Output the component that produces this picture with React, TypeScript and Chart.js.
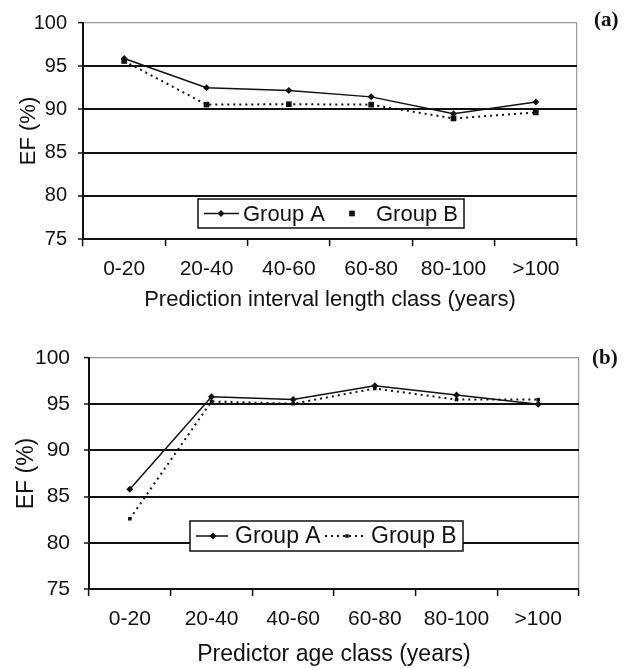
import React, { useEffect, useRef } from "react";
import { Chart, registerables } from "chart.js";

Chart.register(...registerables);

// ---------- data ----------
const categories = ["0-20", "20-40", "40-60", "60-80", "80-100", ">100"];
const seriesLabels = ["Group A", "Group B"];
const yMin = 75;
const yMax = 100;
const yStep = 5;

const topGroupA = [95.9, 92.5, 92.2, 91.45, 89.5, 90.85];
const topGroupB = [95.6, 90.55, 90.6, 90.55, 88.95, 89.65];

const bottomGroupA = [85.8, 95.8, 95.5, 97.0, 96.0, 95.0];
const bottomGroupB = [82.6, 95.3, 95.05, 96.7, 95.5, 95.5];

const yTitle = "EF (%)";
const topXTitle = "Prediction interval length class (years)";
const bottomXTitle = "Predictor age class (years)";
const panelLabels = ["(a)", "(b)"];

// ---------- helpers ----------
const INK = "#111111";
const FRAME = "#9a9a9a";
const SANS = "'Liberation Sans', Arial, sans-serif";

function drawMarker(ctx: CanvasRenderingContext2D, style: string, x: number, y: number, r: number) {
  ctx.save();
  ctx.fillStyle = INK;
  ctx.beginPath();
  if (style === "rectRot") {
    ctx.moveTo(x, y - r);
    ctx.lineTo(x + r, y);
    ctx.lineTo(x, y + r);
    ctx.lineTo(x - r, y);
    ctx.closePath();
  } else {
    const s = r * Math.SQRT1_2;
    ctx.rect(x - s, y - s, 2 * s, 2 * s);
  }
  ctx.fill();
  ctx.restore();
}

type LegendItemPos = { lineFrom?: number; lineTo?: number; marker: number; text: number };
type LegendCfg = { box: [number, number, number, number]; items: LegendItemPos[]; font: string };

function makeBoxedLegend(cfg: LegendCfg) {
  return {
    id: "boxedLegend",
    afterDraw(chart: any) {
      const ctx: CanvasRenderingContext2D = chart.ctx;
      const [x, y, w, h] = cfg.box;
      ctx.save();
      ctx.fillStyle = "#ffffff";
      ctx.fillRect(x, y, w, h);
      ctx.lineWidth = 1.5;
      ctx.strokeStyle = INK;
      ctx.strokeRect(x, y, w, h);
      const cy = y + h / 2;
      chart.data.datasets.forEach((ds: any, i: number) => {
        const it = cfg.items[i];
        if (!it) return;
        if (it.lineFrom !== undefined && it.lineTo !== undefined) {
          ctx.beginPath();
          ctx.strokeStyle = INK;
          ctx.setLineDash(ds.borderDash || []);
          ctx.lineWidth = ds.borderWidth;
          ctx.moveTo(it.lineFrom, cy);
          ctx.lineTo(it.lineTo, cy);
          ctx.stroke();
          ctx.setLineDash([]);
        }
        drawMarker(ctx, ds.pointStyle, it.marker, cy, ds.pointRadius);
        ctx.fillStyle = INK;
        ctx.font = cfg.font;
        ctx.textBaseline = "middle";
        ctx.textAlign = "left";
        ctx.fillText(ds.label, it.text, cy + 1);
      });
      ctx.restore();
    },
  };
}

type PanelProps = {
  width: number;
  height: number;
  top: number;
  a: number[];
  b: number[];
  xTitle: string;
  padding: { top: number; right: number; left: number; bottom: number };
  yWidth: number;
  xHeight: number;
  yTickFont: number;
  yTickPad: number;
  yTitleFont: number;
  yTitlePad: number;
  xTickFont: number;
  xTickPad: number;
  xTitleFont: number;
  xTitlePad: number;
  legend: LegendCfg;
  bRadius: number;
};

function Panel(p: PanelProps) {
  const ref = useRef<HTMLCanvasElement | null>(null);
  useEffect(() => {
    if (!ref.current) return;
    const chart = new Chart(ref.current, {
      type: "line",
      data: {
        labels: categories,
        datasets: [
          {
            label: seriesLabels[0],
            data: p.a,
            borderColor: INK,
            backgroundColor: INK,
            borderWidth: 1.5,
            pointStyle: "rectRot",
            pointRadius: 3.5,
            pointBorderWidth: 0,
            tension: 0,
          },
          {
            label: seriesLabels[1],
            data: p.b,
            borderColor: INK,
            backgroundColor: INK,
            borderWidth: 2,
            borderDash: [2, 4],
            pointStyle: "rect",
            pointRadius: p.bRadius,
            pointBorderWidth: 0,
            tension: 0,
          },
        ] as any,
      },
      options: {
        animation: false,
        responsive: false,
        devicePixelRatio: 1,
        layout: { padding: p.padding },
        plugins: {
          legend: { display: false },
          tooltip: { enabled: false },
        },
        scales: {
          x: {
            type: "category",
            offset: true,
            afterFit: (s: any) => {
              s.height = p.xHeight;
            },
            border: { display: true, color: INK, width: 2 },
            grid: {
              offset: true,
              drawOnChartArea: true,
              color: (c: any) => (c.index === undefined || c.index >= categories.length ? FRAME : "rgba(0,0,0,0)"),
              lineWidth: 1.2,
              tickColor: INK,
              tickWidth: 1.5,
              tickLength: 7,
            },
            ticks: {
              color: INK,
              padding: p.xTickPad,
              maxRotation: 0,
              autoSkip: false,
              font: { family: SANS, size: p.xTickFont },
            },
            title: {
              display: true,
              text: p.xTitle,
              color: INK,
              padding: { top: 0, bottom: p.xTitlePad },
              font: { family: SANS, size: p.xTitleFont },
            },
          },
          y: {
            min: yMin,
            max: yMax,
            afterFit: (s: any) => {
              s.width = p.yWidth;
            },
            border: { display: true, color: INK, width: 2 },
            grid: {
              color: (c: any) => (c.tick && c.tick.value === yMax ? FRAME : INK),
              lineWidth: (c: any) => (c.tick && c.tick.value === yMax ? 1.2 : 2),
              tickColor: INK,
              tickWidth: 1.5,
              tickLength: 5,
            },
            ticks: {
              stepSize: yStep,
              color: INK,
              padding: p.yTickPad,
              font: { family: SANS, size: p.yTickFont },
            },
            title: {
              display: true,
              text: yTitle,
              color: INK,
              padding: { top: p.yTitlePad, bottom: 0 },
              font: { family: SANS, size: p.yTitleFont },
            },
          },
        },
      } as any,
      plugins: [makeBoxedLegend(p.legend)],
    });
    return () => chart.destroy();
  }, []);
  return (
    <canvas
      ref={ref}
      width={p.width}
      height={p.height}
      style={{ position: "absolute", left: 0, top: p.top, width: p.width, height: p.height, display: "block" }}
    />
  );
}

export default function App() {
  const labelStyle: React.CSSProperties = {
    position: "absolute",
    fontFamily: "'Liberation Serif', 'Times New Roman', serif",
    fontWeight: "bold",
    fontSize: 21,
    lineHeight: 1,
    color: INK,
  };
  return (
    <div style={{ position: "absolute", left: 0, top: 0, width: 631, height: 668, background: "#fff", overflow: "hidden" }}>
      <Panel
        width={631}
        height={320}
        top={0}
        a={topGroupA}
        b={topGroupB}
        xTitle={topXTitle}
        padding={{ top: 17, right: 54, left: 0, bottom: 0 }}
        yWidth={83}
        xHeight={81}
        yTickFont={20}
        yTickPad={11}
        yTitleFont={22}
        yTitlePad={16}
        xTickFont={21}
        xTickPad={11}
        xTitleFont={22}
        xTitlePad={7}
        bRadius={4}
        legend={{
          box: [198, 199, 266, 29],
          items: [
            { lineFrom: 204, lineTo: 239, marker: 221, text: 243 },
            { marker: 352, text: 376 },
          ],
          font: `22px ${SANS}`,
        }}
      />
      <Panel
        width={631}
        height={348}
        top={320}
        a={bottomGroupA}
        b={bottomGroupB}
        xTitle={bottomXTitle}
        padding={{ top: 38, right: 52, left: 0, bottom: 0 }}
        yWidth={89}
        xHeight={79}
        yTickFont={21}
        yTickPad={14}
        yTitleFont={23}
        yTitlePad={13}
        xTickFont={21}
        xTickPad={11}
        xTitleFont={23}
        xTitlePad={0}
        bRadius={2.5}
        legend={{
          box: [190, 201, 273, 30],
          items: [
            { lineFrom: 196, lineTo: 228, marker: 213, text: 235 },
            { lineFrom: 325, lineTo: 367, marker: 347, text: 371 },
          ],
          font: `23px ${SANS}`,
        }}
      />
      <div style={{ ...labelStyle, left: 594, top: 9 }}>{panelLabels[0]}</div>
      <div style={{ ...labelStyle, left: 592, top: 347 }}>{panelLabels[1]}</div>
    </div>
  );
}
